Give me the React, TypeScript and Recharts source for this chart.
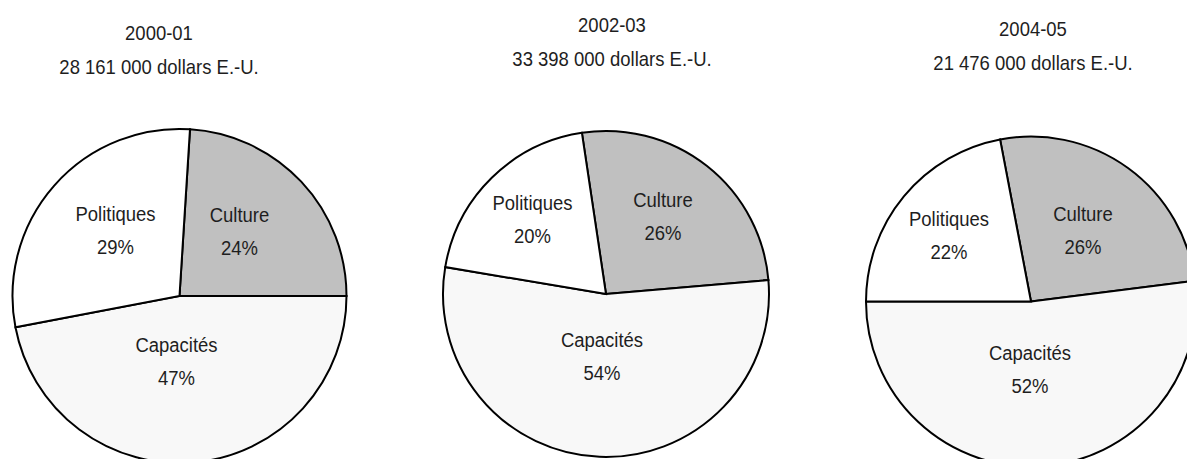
import { Cell, Pie, PieChart } from "recharts";

const categories = ["Culture", "Capacités", "Politiques"];
const periods = ["2000-01", "2002-03", "2004-05"];
const totals = ["28 161 000 dollars E.-U.", "33 398 000 dollars E.-U.", "21 476 000 dollars E.-U."];
const shares2000 = [24, 47, 29];
const shares2002 = [26, 54, 20];
const shares2004 = [26, 52, 22];

// no narrow font installed, so the regular one is squeezed horizontally
const FONT = "'Liberation Sans', Arial, sans-serif";
const SQUEEZE = 0.88;
const TEXT = "#1e1e1e";
const fills = ["#c0c0c0", "#f8f8f8", "#ffffff"];

// layout per pie: centre, radius, start angle, title position, label offsets (first line)
const layout = [
    {
        cx: 179.5, cy: 296, r: 167, start: 86.4, tx: 159, ty: 33,
        labels: [[60, -81], [-3, 49], [-64, -82]],
    },
    {
        cx: 606, cy: 294, r: 163, start: 98.5, tx: 612, ty: 25,
        labels: [[57, -94], [-4, 46], [-73.5, -91.5]],
    },
    {
        cx: 1031, cy: 301.5, r: 165, start: 100.8, tx: 1033, ty: 29,
        labels: [[52, -88], [-1, 51], [-82, -83]],
    },
];

const allShares = [shares2000, shares2002, shares2004];
const LINE = 33;

function Squeezed({ x, y, children }: { x: number; y: number; children: any }) {
    return (
        <text
            transform={`translate(${x},${y}) scale(${SQUEEZE},1)`}
            textAnchor="middle"
            dominantBaseline="central"
            fontFamily={FONT}
            fontSize={21}
            fill={TEXT}
        >
            {children}
        </text>
    );
}

function makeLabel(offsets: number[][]) {
    return (props: any) => {
        const { cx, cy, index, name, value } = props;
        const [dx, dy] = offsets[index];
        return (
            <g>
                <Squeezed x={cx + dx} y={cy + dy}>{name}</Squeezed>
                <Squeezed x={cx + dx} y={cy + dy + LINE}>{`${value}%`}</Squeezed>
            </g>
        );
    };
}

export default function App() {
    return (
        <div style={{ position: "absolute", left: 0, top: 0, width: 1187, height: 459, overflow: "hidden", background: "#fff" }}>
            <PieChart width={1187} height={459} margin={{ top: 0, right: 0, bottom: 0, left: 0 }}>
                {allShares.map((shares, i) => {
                    const l = layout[i];
                    const data = categories.map((name, k) => ({ name, value: shares[k] }));
                    return (
                        <Pie
                            key={periods[i]}
                            data={data}
                            dataKey="value"
                            nameKey="name"
                            cx={l.cx}
                            cy={l.cy}
                            innerRadius={0}
                            outerRadius={l.r}
                            startAngle={l.start}
                            endAngle={l.start - 360}
                            stroke="#000"
                            strokeWidth={2}
                            labelLine={false}
                            label={makeLabel(l.labels)}
                            isAnimationActive={false}
                        >
                            {data.map((d, k) => (
                                <Cell key={d.name} fill={fills[k]} stroke="#000" strokeWidth={2} />
                            ))}
                        </Pie>
                    );
                })}
            </PieChart>
            {periods.map((p, i) => (
                <div
                    key={p}
                    style={{
                        position: "absolute",
                        left: layout[i].tx - 150,
                        top: layout[i].ty - 17,
                        width: 300,
                        textAlign: "center",
                        fontFamily: FONT,
                        fontSize: 21,
                        lineHeight: "34px",
                        color: TEXT,
                        transform: `scaleX(${SQUEEZE})`,
                        transformOrigin: "center",
                    }}
                >
                    <div>{p}</div>
                    <div>{totals[i]}</div>
                </div>
            ))}
        </div>
    );
}
